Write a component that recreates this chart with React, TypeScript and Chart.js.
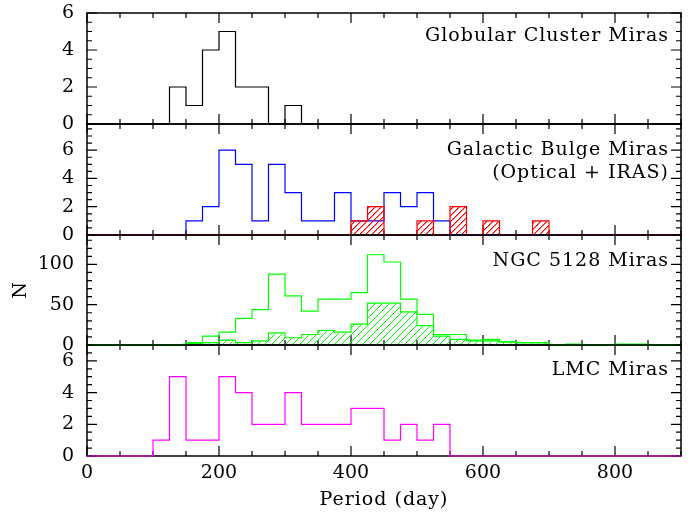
import React, { useEffect, useRef } from 'react';
import { Chart, registerables } from 'chart.js';

Chart.register(...registerables);

// ---------- data ----------
const BIN_WIDTH = 25;
const X_MIN = 0;
const X_MAX = 900;
const X_LABEL_STEP = 200;
const X_MINOR_STEP = 50;

const globularStart = 125;
const globularCounts = [2, 1, 4, 5, 2, 2, 0, 1];

const bulgeOpticalStart = 150;
const bulgeOpticalCounts = [1, 2, 6, 5, 1, 5, 3, 1, 1, 3, 1, 1, 3, 2, 3, 1];

const bulgeIrasStart = 400;
const bulgeIrasCounts = [1, 2, 0, 0, 1, 0, 2, 0, 1, 0, 0, 1];

const ngcAllStart = 150;
const ngcAllCounts = [3, 11, 16, 33, 44, 88, 61, 42, 57, 57, 65, 112, 103, 57, 38, 13, 13, 6, 7, 4, 3, 3, 0, 1, 0, 0, 1, 1];

const ngcSubStart = 150;
const ngcSubCounts = [2, 3, 6, 3, 5, 15, 9, 13, 18, 16, 26, 52, 52, 41, 24, 11, 7, 5, 5, 4, 3, 3];

const lmcStart = 100;
const lmcCounts = [1, 5, 1, 1, 5, 4, 2, 2, 4, 2, 2, 2, 3, 3, 1, 2, 1, 2];

const panelLabels = [
  ['Globular Cluster Miras'],
  ['Galactic Bulge Miras', '(Optical + IRAS)'],
  ['NGC 5128 Miras'],
  ['LMC Miras'],
];
const panelYMax = [6, 7.85, 136.5, 7];
const panelYLabelStep = [2, 2, 50, 2];
const panelYMinorStep = [0.5, 0.5, 10, 0.5];

const xTitle = 'Period (day)';
const yTitle = 'N';

// ---------- layout / style ----------
const W = 697;
const H = 514;
const PANEL_TOP = [13, 124, 235, 345];
const PANEL_BOTTOM = [124, 235, 345, 456];
const PLOT_LEFT = 87;
const PLOT_RIGHT_PAD = 16;
const LABEL_BASE = [28, 31, 30.5, 30];
const FONT = '"DejaVu Serif", serif';

function histPoints(start: number, counts: number[]) {
  const pts: { x: number; y: number }[] = [{ x: X_MIN, y: 0 }];
  counts.forEach((c, i) => pts.push({ x: start + i * BIN_WIDTH, y: c }));
  pts.push({ x: start + counts.length * BIN_WIDTH, y: 0 });
  pts.push({ x: X_MAX, y: 0 });
  return pts;
}

function hatch(color: string, size: number, halo: number) {
  const c = document.createElement('canvas');
  c.width = size;
  c.height = size;
  const g = c.getContext('2d')!;
  g.fillStyle = color;
  for (let i = 0; i < size; i++) {
    g.globalAlpha = 1;
    g.fillRect(i, size - 1 - i, 1, 1);
    if (halo > 0) {
      g.globalAlpha = halo;
      g.fillRect((i + 1) % size, size - 1 - i, 1, 1);
    }
  }
  return g.createPattern(c, 'repeat')!;
}

function isMultiple(v: number, step: number) {
  const r = v / step;
  return Math.abs(r - Math.round(r)) < 1e-6;
}

function makeFramePlugin(p: number) {
  return {
    id: 'frame' + p,
    beforeDatasetsDraw(chart: any) {
      const ctx = chart.ctx as CanvasRenderingContext2D;
      const xs = chart.scales.x;
      const ys = chart.scales.y;
      const { left, right, top, bottom } = chart.chartArea;
      ctx.save();
      ctx.strokeStyle = '#000000';
      ctx.lineWidth = 1.5;
      ctx.beginPath();
      ctx.rect(left, top, right - left, bottom - top);
      ctx.stroke();
      ctx.lineWidth = 1.2;
      const nx = Math.round((X_MAX - X_MIN) / X_MINOR_STEP);
      for (let k = 0; k <= nx; k++) {
        const v = X_MIN + k * X_MINOR_STEP;
        const px = xs.getPixelForValue(v);
        const len = isMultiple(v, X_LABEL_STEP) ? 10 : 5;
        ctx.beginPath();
        ctx.moveTo(px, bottom);
        ctx.lineTo(px, bottom - len);
        ctx.moveTo(px, top);
        ctx.lineTo(px, top + len);
        ctx.stroke();
      }
      const ny = Math.floor(panelYMax[p] / panelYMinorStep[p] + 1e-6);
      for (let k = 0; k <= ny; k++) {
        const v = k * panelYMinorStep[p];
        const py = ys.getPixelForValue(v);
        const len = isMultiple(v, panelYLabelStep[p]) ? 10 : 5;
        ctx.beginPath();
        ctx.moveTo(left, py);
        ctx.lineTo(left + len, py);
        ctx.moveTo(right, py);
        ctx.lineTo(right - len, py);
        ctx.stroke();
      }
      ctx.restore();
    },
    afterDatasetsDraw(chart: any) {
      const ctx = chart.ctx as CanvasRenderingContext2D;
      const xs = chart.scales.x;
      const area = chart.chartArea;
      ctx.save();
      ctx.fillStyle = '#000';
      ctx.font = `19px ${FONT}`;
      (ctx as any).letterSpacing = '1px';
      ctx.textAlign = 'right';
      ctx.textBaseline = 'alphabetic';
      panelLabels[p].forEach((t, i) => {
        ctx.fillText(t, area.right - 12, area.top + LABEL_BASE[p] + i * 22.5);
      });
      if (p === panelLabels.length - 1) {
        ctx.textAlign = 'center';
        ctx.fillText(xTitle, xs.getPixelForValue((X_MIN + X_MAX) / 2), 505);
      }
      if (p === 2) {
        ctx.translate(21, (area.top + area.bottom) / 2);
        ctx.rotate(-Math.PI / 2);
        ctx.textAlign = 'center';
        ctx.textBaseline = 'middle';
        ctx.fillText(yTitle, 0, 0);
      }
      ctx.restore();
    },
  };
}

function panelChart(canvas: HTMLCanvasElement, p: number, datasets: any[]) {
  const isBottom = p === panelLabels.length - 1;
  return new Chart(canvas, {
    type: 'line',
    data: { datasets },
    options: {
      animation: false,
      responsive: false,
      devicePixelRatio: 1,
      events: [],
      layout: {
        padding: { top: PANEL_TOP[p], right: PLOT_RIGHT_PAD, left: 0, bottom: 0 },
      },
      plugins: { legend: { display: false }, tooltip: { enabled: false } },
      scales: {
        x: {
          type: 'linear',
          display: isBottom,
          position: 'bottom',
          min: X_MIN,
          max: X_MAX,
          grid: { display: false, drawTicks: false },
          border: { display: false },
          ticks: {
            stepSize: X_LABEL_STEP,
            includeBounds: false,
            autoSkip: false,
            maxRotation: 0,
            color: '#000',
            padding: 6,
            font: { family: FONT, size: 19 },
          },
          afterFit: (s: any) => {
            s.height = H - PANEL_BOTTOM[p];
            s.paddingLeft = 0;
            s.paddingRight = 0;
          },
        },
        y: {
          type: 'linear',
          position: 'left',
          min: 0,
          max: panelYMax[p],
          grid: { display: false, drawTicks: false },
          border: { display: false },
          ticks: {
            stepSize: panelYLabelStep[p],
            includeBounds: false,
            autoSkip: false,
            color: '#000',
            padding: 13,
            font: { family: FONT, size: 19 },
          },
          afterFit: (s: any) => {
            s.width = PLOT_LEFT;
            s.paddingTop = 0;
            s.paddingBottom = 0;
          },
        },
      },
    },
    plugins: [makeFramePlugin(p)],
  } as any);
}

const line = (data: any, color: string, extra: any = {}) => ({
  data,
  borderColor: color,
  borderWidth: 1.2,
  stepped: true,
  pointRadius: 0,
  fill: false,
  clip: false,
  ...extra,
});

export default function App() {
  const r0 = useRef<HTMLCanvasElement>(null);
  const r1 = useRef<HTMLCanvasElement>(null);
  const r2 = useRef<HTMLCanvasElement>(null);
  const r3 = useRef<HTMLCanvasElement>(null);
  useEffect(() => {
    const charts = [
      panelChart(r0.current!, 0, [line(histPoints(globularStart, globularCounts), '#000000')]),
      panelChart(r1.current!, 1, [
        line(histPoints(bulgeIrasStart, bulgeIrasCounts), '#ff0000', {
          fill: 'origin',
          backgroundColor: hatch('#ff0000', 6, 0.45),
        }),
        line(histPoints(bulgeOpticalStart, bulgeOpticalCounts), '#0000ff'),
      ]),
      panelChart(r2.current!, 2, [
        line(histPoints(ngcAllStart, ngcAllCounts), '#00ff00'),
        line(histPoints(ngcSubStart, ngcSubCounts), '#00ff00', {
          fill: 'origin',
          backgroundColor: hatch('#00ff00', 7, 0),
        }),
      ]),
      panelChart(r3.current!, 3, [line(histPoints(lmcStart, lmcCounts), '#ff00ff')]),
    ];
    return () => charts.forEach((c) => c.destroy());
  }, []);
  const cs: React.CSSProperties = { position: 'absolute', left: 0, top: 0, display: 'block' };
  return (
    <div style={{ position: 'fixed', left: 0, top: 0, width: W, height: H, background: '#fff' }}>
      <canvas ref={r0} width={W} height={H} style={cs} />
      <canvas ref={r1} width={W} height={H} style={cs} />
      <canvas ref={r2} width={W} height={H} style={cs} />
      <canvas ref={r3} width={W} height={H} style={cs} />
    </div>
  );
}
